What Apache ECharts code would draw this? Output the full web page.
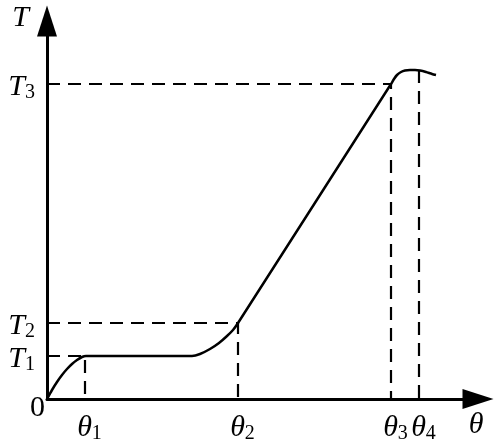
<!DOCTYPE html>
<html>
<head>
<meta charset="utf-8">
<script src="https://cdn.jsdelivr.net/npm/echarts@6/dist/echarts.min.js"></script>
<style>html,body{margin:0;padding:0;background:#fff;}#c{width:500px;height:445px;}</style>
</head>
<body>
<div id="c"></div>
<script>
// Axis extents (arbitrary units)
const xMax = 431;
const yMax = 378;
// Characteristic abscissae θ1..θ4 and ordinates T1..T3
const thetaValues = [38, 191, 344, 372];
const thetaLabels = ['θ1', 'θ2', 'θ3', 'θ4'];
const tempValues = [43, 76, 315];
const tempLabels = ['T1', 'T2', 'T3'];
// Curve T(θ)
const curveX = [0, 5, 10, 15, 20, 25, 30, 35, 39, 145, 153, 163, 172, 180, 186, 191, 344, 347, 350, 354, 358, 363, 368, 373, 379, 385, 389];
const curveY = [0, 9, 17, 24, 30, 35, 39, 42, 43, 43, 45, 50, 56, 63, 69, 76, 315, 320, 324, 327, 328.5, 329, 329, 328.5, 327, 325, 324];
const theta4Top = 329;

const curve = curveX.map((x, i) => [x, curveY[i]]);
const dashStyle = { color: '#000', width: 2.2, type: [13, 8] };
const dashed = [
  [[0, tempValues[0]], [thetaValues[0], tempValues[0]], [thetaValues[0], 0]],
  [[0, tempValues[1]], [thetaValues[1], tempValues[1]], [thetaValues[1], 0]],
  [[0, tempValues[2]], [thetaValues[2], tempValues[2]], [thetaValues[2], 0]],
  [[thetaValues[3], theta4Top], [thetaValues[3], 0]]
];

const serif = "'Liberation Serif', 'Times New Roman', serif";
const MAIN = 30, SUB = 20;
const rich = {
  v: { fontFamily: serif, fontStyle: 'italic', fontSize: MAIN, lineHeight: 24, color: '#000', verticalAlign: 'top' },
  vx: { fontFamily: serif, fontStyle: 'italic', fontSize: MAIN, lineHeight: 24, color: '#000', verticalAlign: 'top', padding: [0, 0, 0, 9] },
  s: { fontFamily: serif, fontSize: SUB, lineHeight: 16, color: '#000', verticalAlign: 'top', padding: [11, 0, 0, 0] },
  g: { fontSize: 4, width: 10 },
  top: { fontFamily: serif, fontStyle: 'italic', fontSize: MAIN, lineHeight: 24, color: '#000', padding: [0, 16, 6, 0] },
  th: { fontFamily: serif, fontStyle: 'italic', fontSize: MAIN, lineHeight: 24, color: '#000', padding: [0, 4, 0, 0] },
  zero: { fontFamily: serif, fontSize: MAIN, lineHeight: 16, color: '#000', padding: [18, 0, 0, 0] }
};
function sub(lbl, main) {
  return '{' + main + '|' + lbl[0] + '}{s|' + lbl.slice(1) + '}';
}

const chart = echarts.init(document.getElementById('c'), null, { renderer: 'canvas' });
chart.setOption({
  animation: false,
  backgroundColor: '#fff',
  grid: { left: 47, right: 22, top: 21, bottom: 46, containLabel: false, outerBoundsMode: 'none' },
  xAxis: {
    type: 'value', min: 0, max: xMax,
    splitLine: { show: false },
    axisLine: { lineStyle: { color: '#000', width: 3 }, symbol: ['none', 'triangle'], symbolSize: [20, 31] },
    axisTick: { show: false },
    axisLabel: {
      customValues: thetaValues.concat([xMax]),
      showMinLabel: true, showMaxLabel: true, hideOverlap: false,
      margin: 14,
      formatter: function (v) {
        const i = thetaValues.indexOf(v);
        if (i >= 0) return sub(thetaLabels[i], 'vx');
        return '{th|θ}';
      },
      rich: rich
    }
  },
  yAxis: {
    type: 'value', min: 0, max: yMax,
    splitLine: { show: false },
    axisLine: { lineStyle: { color: '#000', width: 3 }, symbol: ['none', 'triangle'], symbolSize: [20, 31] },
    axisTick: { show: false },
    axisLabel: {
      customValues: [0].concat(tempValues, [yMax]),
      showMinLabel: true, showMaxLabel: true, hideOverlap: false,
      margin: 2,
      formatter: function (v) {
        if (v === 0) return '{zero|0}';
        const i = tempValues.indexOf(v);
        if (i >= 0) return sub(tempLabels[i], 'v') + '{g| }';
        return '{top|T}';
      },
      rich: rich
    }
  },
  series: dashed.map(d => ({
    type: 'line', data: d, symbol: 'none', lineStyle: dashStyle, silent: true
  })).concat([{
    type: 'line', data: curve, symbol: 'none', smooth: 0.25,
    lineStyle: { color: '#000', width: 2.5 }, z: 5
  }])
});
</script>
</body>
</html>
